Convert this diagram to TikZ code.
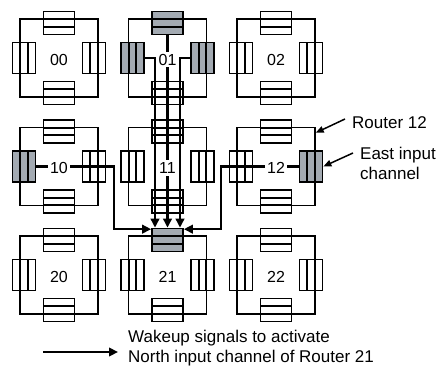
\documentclass[tikz,border=0pt]{standalone}
\usepackage{fontspec}
\setmainfont{Liberation Sans}
\usetikzlibrary{arrows.meta,positioning,calc}

\definecolor{chgray}{HTML}{A3AAB2}
% channels drawn in gray
\expandafter\def\csname grayn01\endcsname{}
\expandafter\def\csname grayw01\endcsname{}
\expandafter\def\csname graye01\endcsname{}
\expandafter\def\csname grayw10\endcsname{}
\expandafter\def\csname graye12\endcsname{}
\expandafter\def\csname grayn21\endcsname{}

\tikzset{
  router/.style={draw, line width=1.4pt, minimum size=78pt, inner sep=0pt},
  buf/.style={draw, line width=1.7pt, fill=white, inner sep=0pt},
  chan/.code={\ifcsname gray#1\endcsname\pgfkeysalso{fill=chgray}\fi},
  bufh/.style={buf, minimum width=31pt, minimum height=23pt,
    path picture={\foreach \f in {0.3333,0.6667}
      \draw[line width=1.7pt]
        ($(path picture bounding box.north west)!\f!(path picture bounding box.south west)$) --
        ($(path picture bounding box.north east)!\f!(path picture bounding box.south east)$);}},
  bufv/.style={buf, minimum width=23pt, minimum height=31pt,
    path picture={\foreach \f in {0.3333,0.6667}
      \draw[line width=1.7pt]
        ($(path picture bounding box.north west)!\f!(path picture bounding box.north east)$) --
        ($(path picture bounding box.south west)!\f!(path picture bounding box.south east)$);}},
  lbl/.style={fill=white, inner sep=2pt},
  wire/.style={line width=2.4pt, -{Triangle[length=9pt,width=8.5pt]}},
  pointer/.style={line width=1.5pt, -{Triangle[length=8pt,width=6.5pt]}},
  note/.style={inner sep=0pt, font=\fontsize{17}{20}\selectfont}
}

\begin{document}
\begin{tikzpicture}[x=1pt, y=-1pt, font=\fontsize{16}{18}\selectfont]
\useasboundingbox (0,0) rectangle (441,366);
% 3x3 routers, each with N/S/E/W input channels
\foreach \r in {0,1,2}{
  \foreach \c in {0,1,2}{
    \node[router] (r\r\c) at ({59+108.5*\c},{58+108.5*\r}) {};
    \node[bufh, chan=n\r\c] (n\r\c) at ($(r\r\c)+(0,-35)$) {};
    \node[bufh, chan=s\r\c] (s\r\c) at ($(r\r\c)+(0,35)$) {};
    \node[bufv, chan=w\r\c] (w\r\c) at ($(r\r\c)+(-35,0)$) {};
    \node[bufv, chan=e\r\c] (e\r\c) at ($(r\r\c)+(35,0)$) {};
  }
}
% wakeup signals towards north input of router 21
\draw[wire] (n01.south) -- (n21.north);
\draw[wire] (w01.east) -| ([xshift=-12.5pt]n21.north);
\draw[wire] (e01.west) -| ([xshift=12.5pt]n21.north);
\coordinate (k10) at ($(e10.east)+(7.5,0)$);
\draw[wire] (w10.east) -- (k10) |- ([yshift=-1.5pt]n21.north west);
\coordinate (k12) at ($(w12.west)+(-7.5,0)$);
\draw[wire] (e12.west) -- (k12) |- ([yshift=-1.5pt]n21.north east);
% router ids
\foreach \r in {0,1,2}
  \foreach \c in {0,1,2}
    \node[lbl] (l\r\c) at ([yshift=-1.5pt]r\r\c.center) {\r\c};
% annotations
\node[note, anchor=west] (rname) at (352,123) {Router 12};
\draw[pointer] ([shift={(-7,-4)}]rname.west) -- ([yshift=-6pt]r12.north east);
\node[note, anchor=west, align=left] (ename) at (360,163) {East input\\channel};
\draw[pointer] ([shift={(-7,-10)}]ename.west) -- (e12.east);
% legend
\coordinate (lg0) at (43,352);
\coordinate (lg1) at (118,352);
\draw[wire] (lg0) -- (lg1);
\node[note, anchor=west, align=left] (lgtext) at (128,348)
  {Wakeup signals to activate\\North input channel of Router 21};
\end{tikzpicture}
\end{document}
